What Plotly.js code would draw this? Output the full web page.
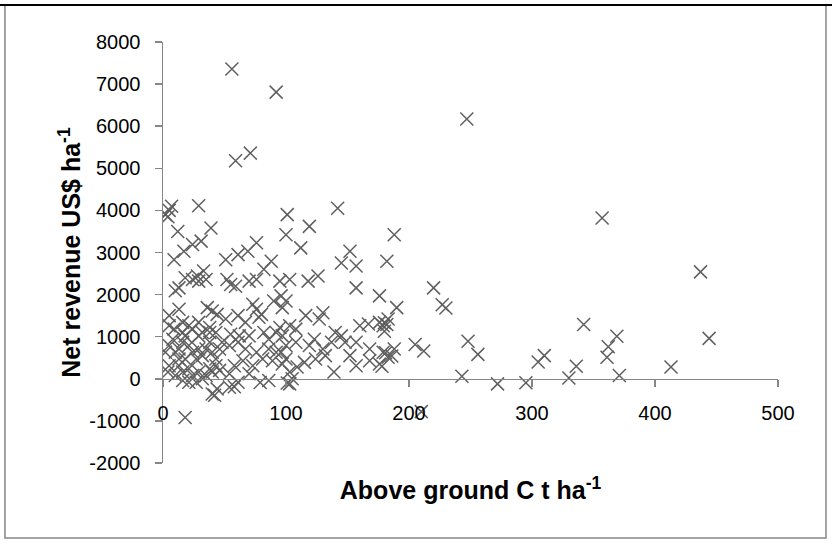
<!DOCTYPE html>
<html>
<head>
<meta charset="utf-8">
<script src="https://cdn.plot.ly/plotly-3.0.1.min.js"></script>
<style>html,body{margin:0;padding:0;background:#fff;}#chart{width:832px;height:556px;}</style>
</head>
<body>
<div id="chart"></div>
<script>
// Above ground C (t/ha)
var carbon = [
56,92,59,71,247,
2,5,7,4,29,12,39,
9,17,24,31,51,61,69,76,88,
101,100,119,112,142,152,145,157,157,182,188,176,190,
24,28,18,29,13,10,33,35,52,55,59,70,76,82,95,103,118,126,96,100,97,90,76,73,80,36,40,44,51,61,67,78,5,13,5,16,21,29,38,43,116,130,127,95,103,108,92,140,145,137,148,160,167,176,183,179,188,168,157,152,157,168,176,183,179,123,119,130,124,115,109,132,139,103,105,103,86,97,89,81,73,65,58,54,54,42,44,61,70,76,67,61,55,54,62,70,82,86,97,108,100,96,100,92,86,
2,5,8,10,13,16,18,21,24,27,29,32,35,38,40,43,46,48,5,4,13,16,21,24,27,29,32,35,38,40,43,46,21,16,10,18,13,9,24,29,32,16,38,
18,40,58,79,101,210,
180,182,180,181,186,178,205,212,220,227,230,248,256,243,272,295,305,310,330,336,342,357,362,361,369,371,413,437,444
];
// Net revenue (US$/ha)
var revenue = [
7360,6810,5180,5360,6170,
3900,4000,4100,3850,4110,3500,3580,
2830,3030,3190,3270,2830,2950,3030,3230,2790,
3900,3420,3620,3110,4050,3030,2750,2680,2160,2790,3420,1970,1690,
2360,2440,2400,2320,2160,2090,2560,2360,2360,2240,2200,2320,2360,2600,2320,2360,2320,2440,1970,1850,1690,1850,1650,1770,1530,1690,1610,1530,1420,1500,1340,1460,1500,1650,1260,1340,1260,1340,1220,1100,1500,1570,1420,1220,1260,1180,1100,1100,1020,870,870,1260,1300,1340,1420,1260,710,710,870,550,310,430,350,510,630,940,790,710,470,390,280,550,160,160,0,-120,-40,350,430,470,310,430,310,120,-200,-390,-240,-80,120,630,710,870,1060,790,1020,1020,1100,940,1020,870,790,630,470,630,710,
630,790,940,630,710,870,1020,790,630,470,710,550,710,870,630,470,710,870,310,160,310,160,240,80,-80,160,0,80,240,160,310,200,-80,-40,80,470,470,1180,1180,1020,1100,1100,1100,
-920,-360,-190,-90,-100,-780,
1330,1290,1130,620,540,300,815,660,2160,1760,1680,890,580,60,-120,-95,400,550,20,300,1290,3820,760,510,1010,80,280,2540,960
];
var xTicks = [0,100,200,300,400,500];
var yTicks = [-2000,-1000,0,1000,2000,3000,4000,5000,6000,7000,8000];

var axisColor = '#868686';
var fam = 'Liberation Sans, Arial, sans-serif';
var font = {family: fam, size: 20, color: '#000'};
var titleFont = {family: fam, size: 25, color: '#000'};

var traces = [
  {
    type: 'scatter', mode: 'markers', x: carbon, y: revenue,
    xaxis: 'x', yaxis: 'y',
    marker: {symbol: 'x-thin-open', size: 13, color: '#5f5f5f', line: {width: 1.5, color: '#5f5f5f'}},
    hoverinfo: 'x+y', showlegend: false
  },
  {
    type: 'scatter', mode: 'markers', x: [], y: [],
    xaxis: 'x2', yaxis: 'y2', showlegend: false, hoverinfo: 'skip'
  }
];

var layout = {
  width: 832, height: 556,
  paper_bgcolor: '#fff', plot_bgcolor: 'rgba(0,0,0,0)',
  margin: {l: 163, r: 54, t: 42, b: 93},
  font: font,
  showlegend: false,
  xaxis: {
    range: [0, 500], showline: false, showgrid: false, zeroline: false,
    showticklabels: false, ticks: '', fixedrange: true,
    title: {text: '<b>Above ground C t ha<sup>-1</sup></b>', font: titleFont, standoff: 18}
  },
  yaxis: {
    range: [-2000, 8000], tickvals: yTicks, ticktext: yTicks.map(String),
    showline: true, linecolor: axisColor, linewidth: 1.5,
    ticks: 'outside', ticklen: 7, tickcolor: axisColor, tickwidth: 1.5,
    ticklabelstandoff: 10,
    showgrid: false, zeroline: false, fixedrange: true,
    tickfont: font,
    title: {text: '<b>Net revenue US$ ha<sup>-1</sup></b>', font: titleFont, standoff: 1}
  },
  xaxis2: {
    range: [0, 500], anchor: 'y2', overlaying: 'x',
    tickvals: xTicks, ticktext: xTicks.map(String),
    showline: true, linecolor: axisColor, linewidth: 1.5,
    ticks: 'outside', ticklen: 7, tickcolor: axisColor, tickwidth: 1.5,
    ticklabelstandoff: 9,
    showgrid: false, zeroline: false, fixedrange: true, tickfont: font
  },
  yaxis2: {
    range: [0, 8000], domain: [0.2, 1], anchor: 'x2', visible: false, fixedrange: true
  },
  shapes: [
    {type: 'rect', xref: 'paper', yref: 'paper', x0: -0.257, x1: 1.078, y0: -0.178, y1: 1.088,
     line: {color: axisColor, width: 1.5}, fillcolor: 'rgba(0,0,0,0)', layer: 'below'},
    {type: 'line', xref: 'paper', yref: 'paper', x0: -0.265, x1: 1.09, y0: 1.088, y1: 1.088,
     line: {color: '#000', width: 2}}
  ]
};

Plotly.newPlot('chart', traces, layout, {displayModeBar: false, staticPlot: true});
</script>
</body>
</html>
